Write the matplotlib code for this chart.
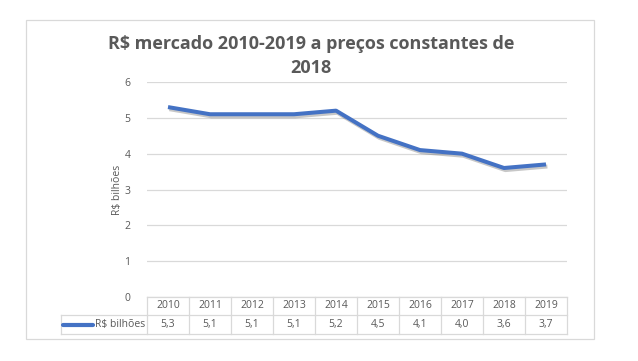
import numpy as np
import matplotlib
matplotlib.use('Agg')
import matplotlib.pyplot as plt
import matplotlib.transforms as mtransforms
import matplotlib.patheffects as pe
from matplotlib.patches import Rectangle
from matplotlib.lines import Line2D

### Data ###
anos = ['2010', '2011', '2012', '2013', '2014', '2015', '2016', '2017', '2018', '2019']
valores = [5.3, 5.1, 5.1, 5.1, 5.2, 4.5, 4.1, 4.0, 3.6, 3.7]
serie = 'R$ bilhões'
titulo = 'R$ mercado 2010-2019 a preços constantes de\n2018'

W, H = 638, 361
azul = '#4472C4'
cinza = '#595959'
grade = '#D9D9D9'

plt.rcParams['font.family'] = ['Open Sans', 'DejaVu Sans']

fig = plt.figure(figsize=(W / 100, H / 100), dpi=100)

def fx(px):
    return px / W

def fy(py):
    return 1 - py / H

# outer chart border
fig.patches.append(Rectangle((fx(26), fy(339)), fx(594) - fx(26), fy(20) - fy(339),
                             transform=fig.transFigure, fill=False, edgecolor=grade, lw=0.9))

ax = fig.add_axes([fx(147), fy(297), fx(567) - fx(147), fy(82) - fy(297)])
x = np.arange(len(anos))
ax.plot(x, valores, color=azul, lw=2.9, solid_capstyle='butt', solid_joinstyle='round',
        path_effects=[pe.SimpleLineShadow(offset=(1.0, -1.5), shadow_color='#606060', alpha=0.35),
                      pe.Normal()])
ax.set_xlim(-0.5, len(anos) - 0.5)
ax.set_ylim(0, 6)
ax.set_yticks(range(0, 7))
ax.yaxis.grid(True, color=grade, lw=0.9)
ax.set_axisbelow(True)
for s in ax.spines.values():
    s.set_visible(False)
ax.tick_params(axis='y', length=0, pad=12, labelsize=7.5, labelcolor=cinza)
ax.tick_params(axis='x', length=0, labelbottom=False)
ax.set_ylabel(serie, fontsize=7.5, color=cinza, labelpad=1)

fig.text(fx(311), fy(35), titulo, ha='center', va='top', fontsize=13, fontweight='bold',
         color=cinza, linespacing=1.45)

### Data table under the axis ###
axh = 297 - 82
r1 = -18 / axh
r2 = -37 / axh
tr = mtransforms.blended_transform_factory(ax.transData, ax.transAxes)
left_leg = -0.5 - (147 - 61) / ((567 - 147) / len(anos))

def hline(y, x0, x1):
    ax.add_line(Line2D([x0, x1], [y, y], transform=tr, color=grade, lw=0.9, clip_on=False))

def vline(xx, y0, y1):
    ax.add_line(Line2D([xx, xx], [y0, y1], transform=tr, color=grade, lw=0.9, clip_on=False))

hline(0, -0.5, len(anos) - 0.5)
hline(r1, left_leg, len(anos) - 0.5)
hline(r2, left_leg, len(anos) - 0.5)
vline(left_leg, r1, r2)
for i in range(len(anos) + 1):
    vline(i - 0.5, 0, r2)

for i, (a, v) in enumerate(zip(anos, valores)):
    ax.text(i, r1 / 2, a, transform=tr, ha='center', va='center', fontsize=7.5, color=cinza)
    ax.text(i, (r1 + r2) / 2, ('%.1f' % v).replace('.', ','), transform=tr,
            ha='center', va='center', fontsize=7.5, color=cinza)

# legend key in the table
ax.add_line(Line2D([left_leg + 0.05, left_leg + 0.75], [(r1 + r2) / 2] * 2, transform=tr,
                   color=azul, lw=3, solid_capstyle='round', clip_on=False))
ax.text(-0.55, (r1 + r2) / 2, serie, transform=tr, ha='right', va='center',
        fontsize=7.5, color=cinza)

fig.savefig('out.png', dpi=100)
